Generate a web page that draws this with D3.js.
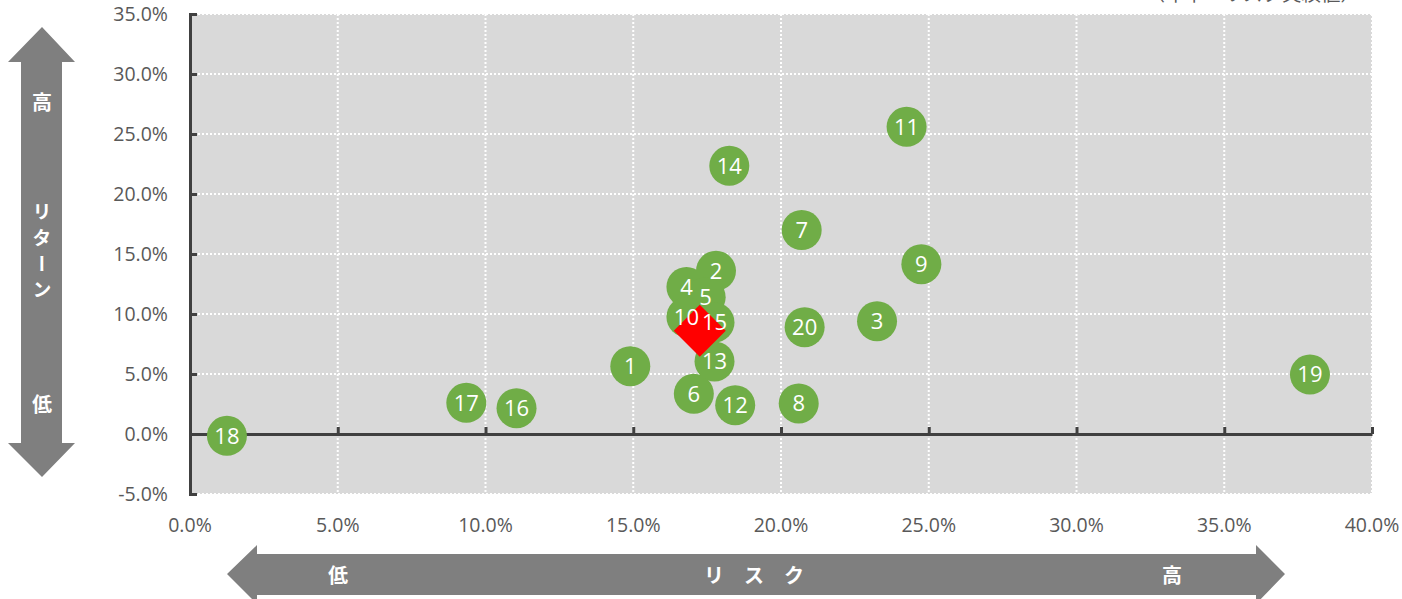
<!DOCTYPE html>
<meta charset="utf-8">
<style>
body { margin: 0; background: #fff; }
svg text { font-family: "Open Sans", "Noto Sans", sans-serif; }
.jp { font-family: "Noto Sans CJK JP", sans-serif; font-weight: bold; fill: #fff; }
.tick-label { fill: #595959; font-size: 19.5px; }
</style>
<body>
<div id="chart"></div>
<script src="https://d3js.org/d3.v7.min.js"></script>
<script>

// fund numbers, risk (x, %) and return (y, %)
var ids     = [1, 2, 3, 4, 5, 6, 7, 8, 9, 10, 11, 12, 13, 14, 15, 16, 17, 18, 19, 20];
var risks   = [14.9, 17.8, 23.25, 16.8, 17.45, 17.05, 20.7, 20.6, 24.75, 16.8, 24.25, 18.45, 17.75, 18.25, 17.75, 11.05, 9.35, 1.25, 37.9, 20.8];
var returns = [5.65, 13.6, 9.4, 12.25, 11.4, 3.35, 17.0, 2.55, 14.15, 9.75, 25.6, 2.4, 6.05, 22.35, 9.3, 2.15, 2.6, -0.15, 4.95, 8.9];

// highlighted portfolio (red diamond)
var markRisk = 17.25, markReturn = 8.6;

var xTicks = [0, 5, 10, 15, 20, 25, 30, 35, 40];
var yTicks = [-5, 0, 5, 10, 15, 20, 25, 30, 35];

var W = 1402, H = 599;
var svg = d3.select("#chart").append("svg")
    .attr("width", W)
    .attr("height", H);

var x = d3.scaleLinear().domain([0, 40]).range([190, 1372]);
var y = d3.scaleLinear().domain([-5, 35]).range([494, 14]);

// plot background
svg.append("rect")
    .attr("x", x(0)).attr("y", y(35))
    .attr("width", x(40) - x(0))
    .attr("height", y(-5) - y(35))
    .attr("fill", "#d9d9d9");

// dotted white gridlines
svg.selectAll(".vgrid")
    .data(xTicks.slice(1))
    .enter().append("line")
    .attr("x1", d => x(d)).attr("x2", d => x(d))
    .attr("y1", y(35)).attr("y2", y(-5))
    .attr("stroke", "#fff").attr("stroke-width", 2)
    .attr("stroke-dasharray", "2,2");

svg.selectAll(".hgrid")
    .data(yTicks)
    .enter().append("line")
    .attr("x1", x(0)).attr("x2", x(40))
    .attr("y1", d => y(d)).attr("y2", d => y(d))
    .attr("stroke", "#fff").attr("stroke-width", 2)
    .attr("stroke-dasharray", "2,2");

// y axis: thick dark line, ticks pointing inward
var yAxis = svg.append("g")
    .attr("transform", "translate(" + x(0) + ",0)")
    .call(d3.axisLeft(y).tickValues(yTicks).tickSize(-7).tickPadding(22)
        .tickFormat(d => d.toFixed(1) + "%"));
yAxis.select(".domain").attr("stroke", "#404040").attr("stroke-width", 3);
yAxis.selectAll(".tick line").attr("stroke", "#404040").attr("stroke-width", 3);
yAxis.selectAll(".tick text").attr("class", "tick-label").attr("font-size", null).attr("font-family", null);

// x axis sits at 0%, labels placed at the bottom of the plot
var xAxis = svg.append("g")
    .attr("transform", "translate(0," + y(0) + ")")
    .call(d3.axisTop(x).tickValues(xTicks).tickSize(7).tickSizeOuter(0).tickFormat(""));
xAxis.select(".domain").attr("stroke", "#404040").attr("stroke-width", 3);
xAxis.selectAll(".tick line").attr("stroke", "#404040").attr("stroke-width", 3);

svg.selectAll(".xlabel")
    .data(xTicks)
    .enter().append("text")
    .attr("class", "tick-label")
    .attr("x", d => x(d))
    .attr("y", 532)
    .attr("text-anchor", "middle")
    .text(d => d.toFixed(1) + "%");

// data points
var pts = ids.map((id, i) => ({id: id, risk: risks[i], ret: returns[i]}));

svg.selectAll(".pt")
    .data(pts)
    .enter().append("circle")
    .attr("cx", d => x(d.risk))
    .attr("cy", d => y(d.ret))
    .attr("r", 20)
    .attr("fill", "#70ad47");

var ds = 26;
svg.append("path")
    .attr("d", "M0," + (-ds) + "L" + ds + ",0L0," + ds + "L" + (-ds) + ",0Z")
    .attr("transform", "translate(" + x(markRisk) + "," + y(markReturn) + ")")
    .attr("fill", "#ff0000");

svg.selectAll(".ptlabel")
    .data(pts)
    .enter().append("text")
    .attr("x", d => x(d.risk))
    .attr("y", d => y(d.ret))
    .attr("dy", "0.35em")
    .attr("text-anchor", "middle")
    .attr("fill", "#fff")
    .attr("font-size", 22)
    .text(d => d.id);

// note at top right (cropped in the original)
svg.append("text")
    .attr("class", "tick-label")
    .attr("x", 1360).attr("y", 1)
    .attr("text-anchor", "end")
    .style("font-family", "'Noto Sans CJK JP', sans-serif")
    .text("（年率・リスク実績値）");

// vertical return arrow
var arrowFill = "#7f7f7f";
svg.append("path")
    .attr("d", "M42,27 L75,62 L62,62 L62,443 L75,443 L42,477 L8,443 L21,443 L21,62 L8,62 Z")
    .attr("fill", arrowFill);

svg.append("text").attr("class", "jp").attr("font-size", 20)
    .attr("x", 42).attr("y", 103).attr("dy", "0.35em").attr("text-anchor", "middle").text("高");
svg.append("text").attr("class", "jp").attr("font-size", 19)
    .attr("x", 42).attr("y", 202)
    .style("writing-mode", "vertical-rl")
    .style("letter-spacing", "7px")
    .text("リターン");
svg.append("text").attr("class", "jp").attr("font-size", 20)
    .attr("x", 42).attr("y", 405).attr("dy", "0.35em").attr("text-anchor", "middle").text("低");

// horizontal risk arrow
svg.append("path")
    .attr("d", "M227,574 L257,545 L257,554 L1256,554 L1256,545 L1285,574 L1256,604 L1256,595 L257,595 L257,604 Z")
    .attr("fill", arrowFill);

svg.append("text").attr("class", "jp").attr("font-size", 20)
    .attr("x", 338).attr("y", 576).attr("dy", "0.35em").attr("text-anchor", "middle").text("低");
svg.append("text").attr("class", "jp").attr("font-size", 20)
    .attr("x", 704).attr("y", 576).attr("dy", "0.35em")
    .style("letter-spacing", "20px")
    .text("リスク");
svg.append("text").attr("class", "jp").attr("font-size", 20)
    .attr("x", 1172).attr("y", 576).attr("dy", "0.35em").attr("text-anchor", "middle").text("高");

</script>
</body>
